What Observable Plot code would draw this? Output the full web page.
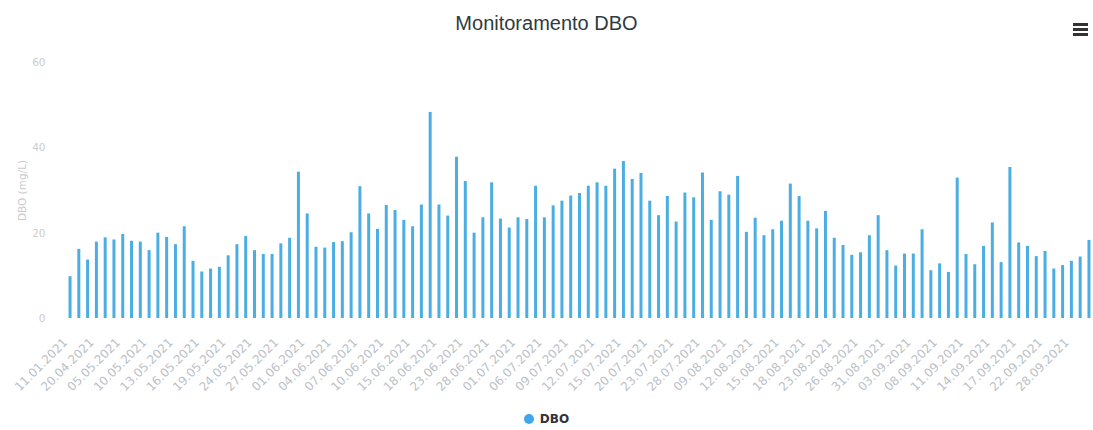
<!DOCTYPE html>
<html><head><meta charset="utf-8">
<script src="https://cdn.jsdelivr.net/npm/d3@7"></script>
<script src="https://cdn.jsdelivr.net/npm/@observablehq/plot@0.6"></script>
<style>
html,body{margin:0;padding:0;background:#fff;}
body{width:1093px;height:430px;overflow:hidden;font-family:"Liberation Sans",Arial,sans-serif;}
#head{position:relative;height:48px;}
#head h1{margin:0;position:absolute;left:0;right:0;top:12px;text-align:center;font-weight:normal;font-size:20px;color:#2e3b40;font-family:"Liberation Sans",Arial,sans-serif;}
#menu{position:absolute;left:1073px;top:23px;width:15px;}
#menu span{display:block;height:2.5px;background:#333;margin-bottom:2.5px;}
#chart{height:360px;}
#legend{height:22px;display:flex;justify-content:center;align-items:center;font-size:12px;font-weight:bold;color:#333;font-family:"DejaVu Sans",sans-serif;}
#legend i{display:inline-block;width:10px;height:10px;border-radius:50%;background:#3fa7ec;margin-right:6px;}
</style></head>
<body>
<div id="head"><h1>Monitoramento DBO</h1><div id="menu"><span></span><span></span><span></span></div></div>
<div id="chart"></div>
<div id="legend"><i></i><span>DBO</span></div>
<script>
const seriesName = "DBO";
const values = [
  9.8, 16.2, 13.7, 17.9, 18.9, 18.4, 19.7, 18.1, 17.9, 15.9, 20.0, 19.0, 17.3, 21.5, 13.4, 10.9, 11.6, 12.0, 14.7,
  17.3, 19.2, 15.9, 15.0, 15.0, 17.5, 18.8, 34.3, 24.5, 16.7, 16.5, 17.8, 18.0, 20.1, 30.9, 24.5, 20.9, 26.5, 25.3, 23.0,
  21.5, 26.6, 48.3, 26.6, 24.0, 37.8, 32.1, 20.0, 23.6, 31.8, 23.3, 21.2, 23.6, 23.2, 31.0, 23.6, 26.4, 27.5, 28.7, 29.3,
  31.0, 31.8, 31.0, 35.0, 36.8, 32.6, 34.0, 27.5, 24.1, 28.6, 22.6, 29.4, 28.3, 34.1, 23.0, 29.7, 28.9, 33.3, 20.2, 23.5,
  19.4, 20.8, 22.8, 31.5, 28.6, 22.8, 21.0, 25.1, 18.8, 17.1, 14.8, 15.4, 19.4, 24.1, 15.9, 12.3, 15.1, 15.1, 20.8, 11.2,
  12.8, 10.8, 32.9, 15.0, 12.6, 16.9, 22.4, 13.1, 35.4, 17.7, 16.9, 14.5, 15.7, 11.6, 12.4, 13.4, 14.4, 18.3
];
// labels shown on every third category
const tickLabels = [
  "11.01.2021","20.04.2021","05.05.2021","10.05.2021","13.05.2021","16.05.2021","19.05.2021","24.05.2021",
  "27.05.2021","01.06.2021","04.06.2021","07.06.2021","10.06.2021","15.06.2021","18.06.2021","23.06.2021",
  "28.06.2021","01.07.2021","06.07.2021","09.07.2021","12.07.2021","15.07.2021","20.07.2021","23.07.2021",
  "28.07.2021","09.08.2021","12.08.2021","15.08.2021","18.08.2021","23.08.2021","26.08.2021","31.08.2021",
  "03.09.2021","08.09.2021","11.09.2021","14.09.2021","17.09.2021","22.09.2021","28.09.2021"
];
const yTicks = [0, 20, 40, 60];
const yTitle = "DBO (mg/L)";

const data = values.map((v, i) => ({i, v}));
const chart = Plot.plot({
  width: 1093, height: 360,
  marginLeft: 66, marginRight: 0, marginTop: 14, marginBottom: 90,
  x: {type: "band", domain: d3.range(values.length), paddingInner: 0.66, paddingOuter: 0.29},
  y: {domain: [0, 60]},
  style: {fontFamily: "DejaVu Sans, sans-serif", background: "white"},
  marks: [
    Plot.barY(data, {x: "i", y: "v", fill: "#4aaee2"}),
    Plot.axisY({ticks: yTicks, tickSize: 0, tickPadding: 21, fontSize: 10.5, fill: "#cbcbcb",
      label: yTitle, labelAnchor: "center", labelOffset: 48, labelArrow: false}),
    Plot.axisX({ticks: d3.range(0, values.length, 3), tickFormat: i => tickLabels[i / 3],
      tickRotate: -45, tickSize: 0, tickPadding: 22, dx: -5, fontSize: 12, fill: "#bcc1c8", label: null})
  ]
});
document.getElementById("chart").appendChild(chart);
</script>
</body></html>
